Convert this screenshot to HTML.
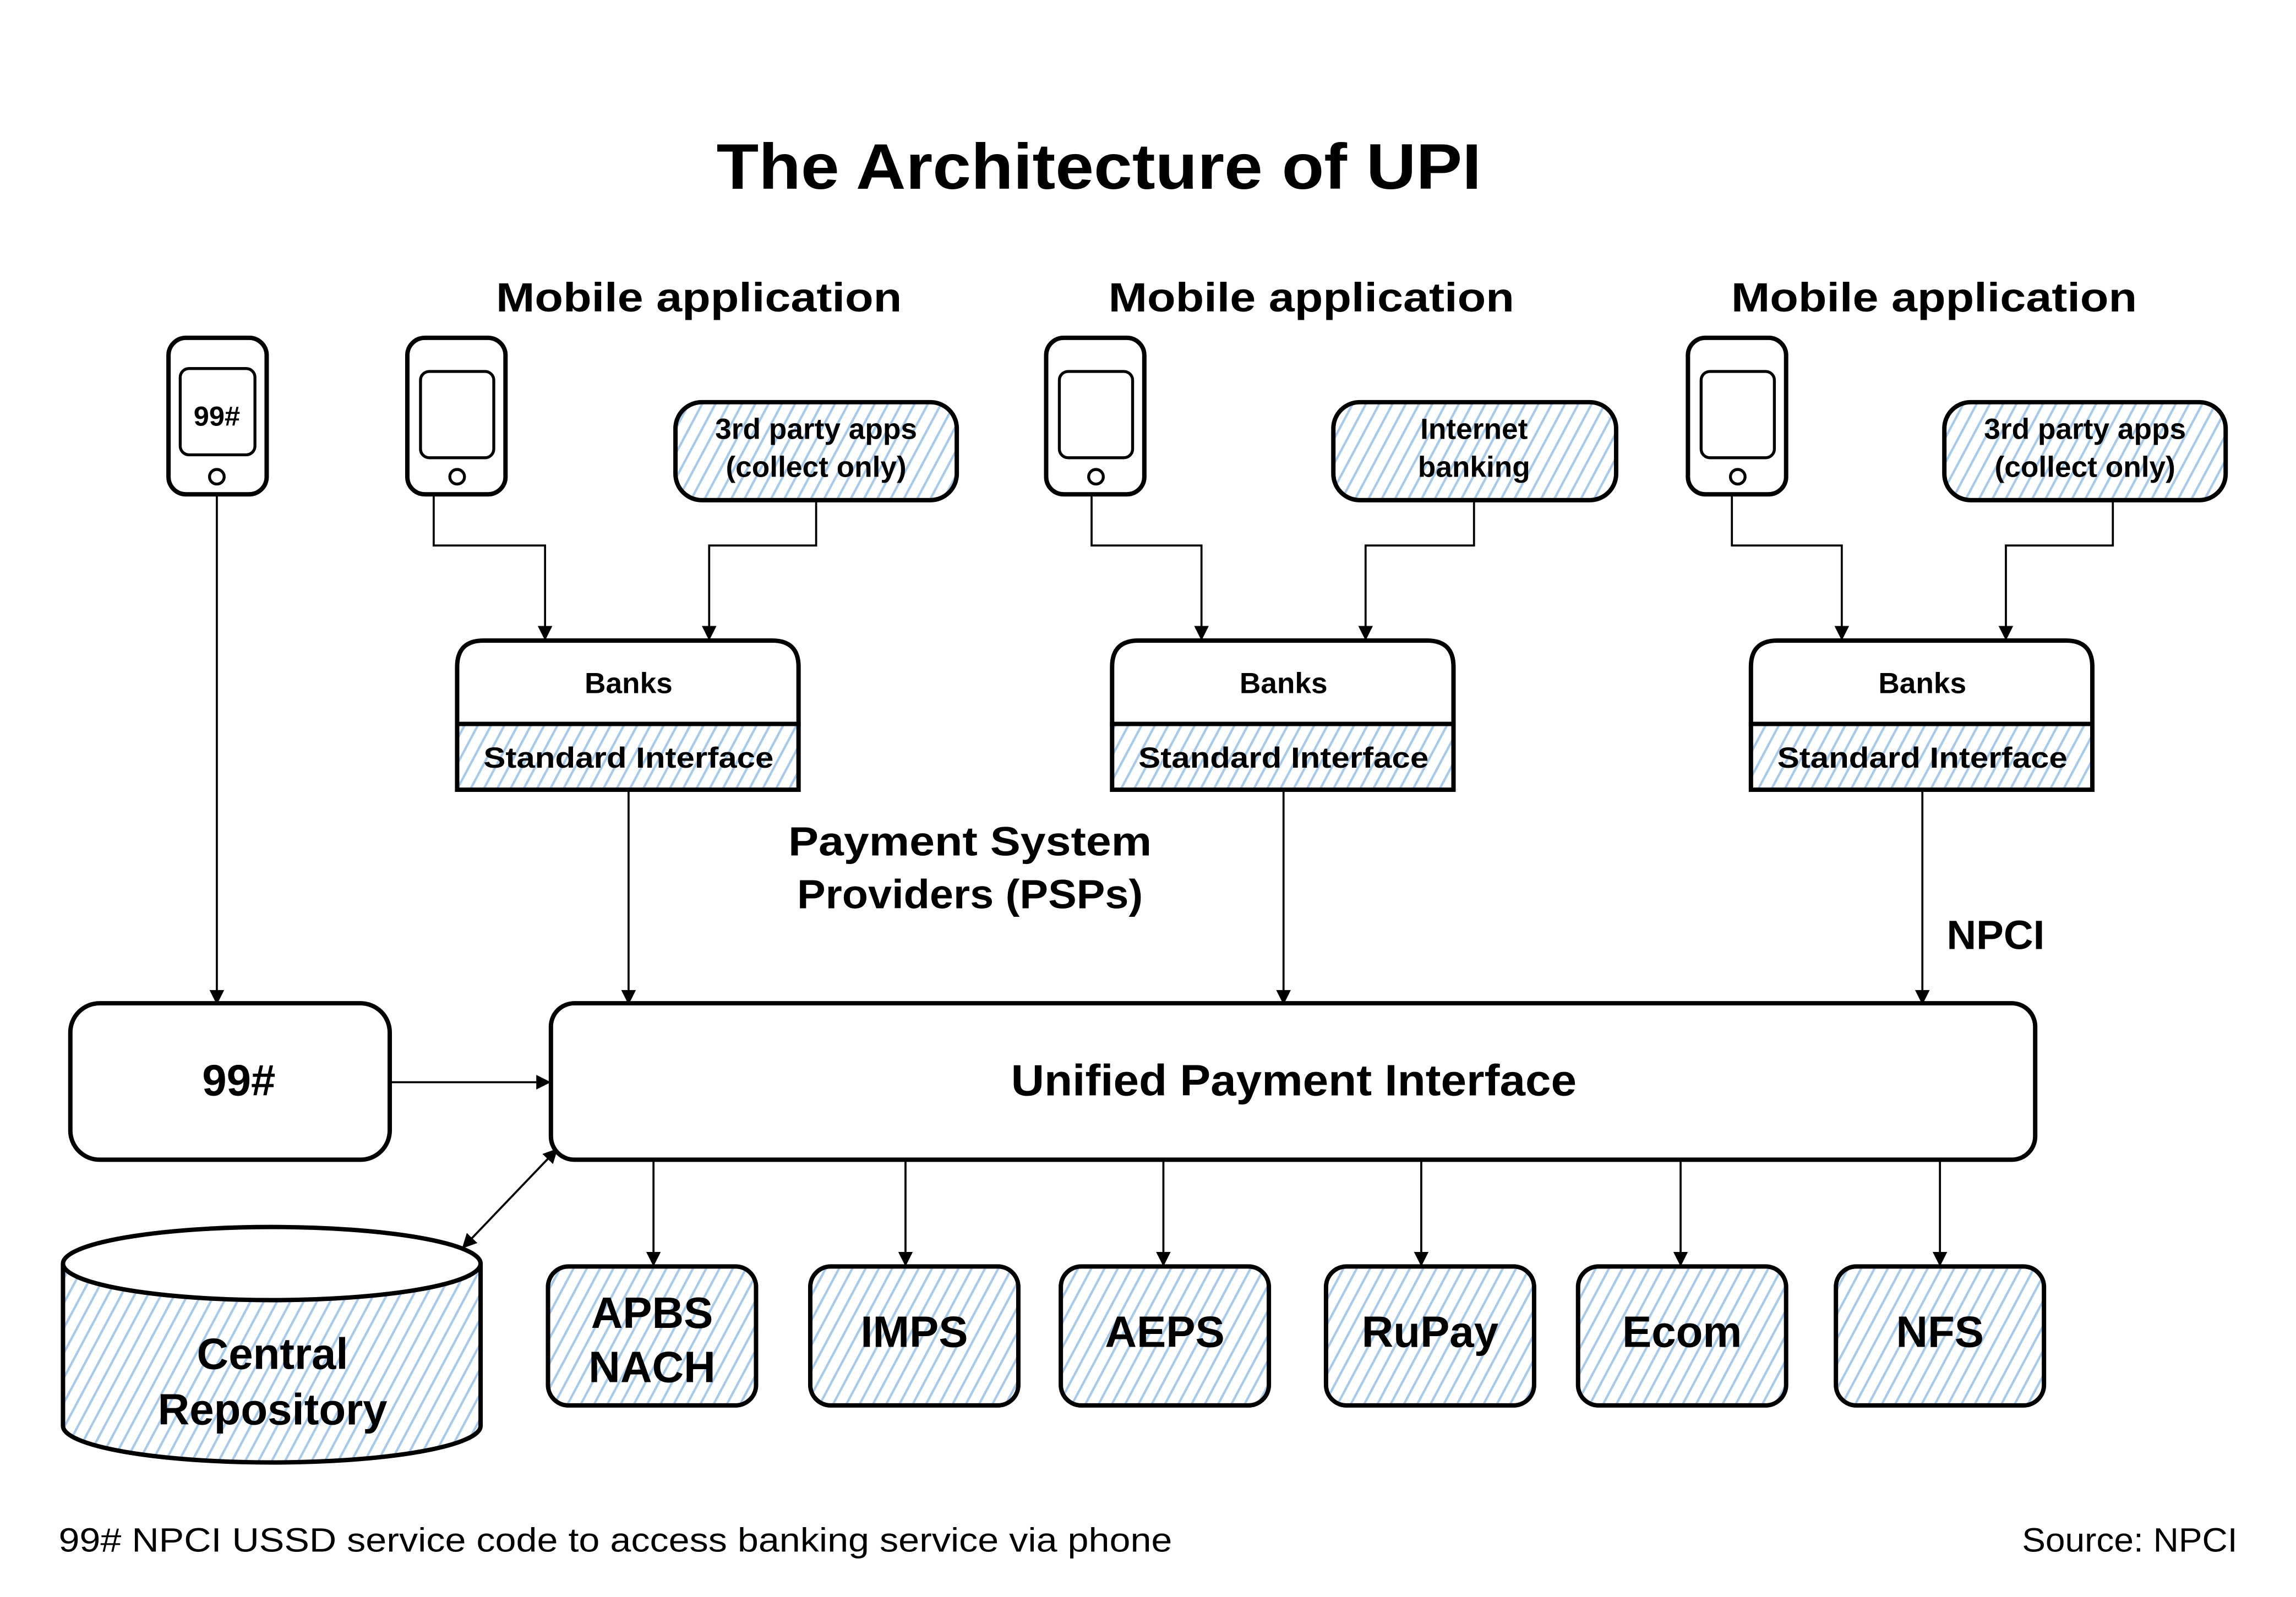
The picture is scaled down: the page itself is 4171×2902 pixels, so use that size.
<!DOCTYPE html>
<html><head><meta charset="utf-8"><style>html,body{margin:0;padding:0;background:#fff}svg{display:block}</style></head><body>
<svg width="4171" height="2902" viewBox="0 0 1567 1092" preserveAspectRatio="none" xmlns="http://www.w3.org/2000/svg" font-family="Liberation Sans, sans-serif">
<defs>
<pattern id="h" patternUnits="userSpaceOnUse" width="8" height="8" patternTransform="rotate(28)">
<rect width="8" height="8" fill="#fff"/><line x1="0" y1="0" x2="0" y2="8" stroke="#a9c9e9" stroke-width="3.2"/>
</pattern>
<marker id="a" markerWidth="10" markerHeight="10" refX="9" refY="5" orient="auto" markerUnits="userSpaceOnUse"><path d="M0,0 L10,5 L0,10z" fill="#000"/></marker>
<marker id="as" markerWidth="10" markerHeight="10" refX="1" refY="5" orient="auto" markerUnits="userSpaceOnUse"><path d="M10,0 L0,5 L10,10z" fill="#000"/></marker>
</defs>
<rect width="1567" height="1092" fill="#fff"/>
<text x="750" y="129" font-size="44" font-weight="bold" text-anchor="middle" textLength="522" lengthAdjust="spacingAndGlyphs">The Architecture of UPI</text>
<g font-size="28" font-weight="bold" text-anchor="middle">
<text x="477" y="213" textLength="277" lengthAdjust="spacingAndGlyphs">Mobile application</text><text x="895" y="213" textLength="277" lengthAdjust="spacingAndGlyphs">Mobile application</text><text x="1320" y="213" textLength="277" lengthAdjust="spacingAndGlyphs">Mobile application</text>
<text x="662" y="585" textLength="248" lengthAdjust="spacingAndGlyphs">Payment System</text><text x="662" y="621" textLength="236" lengthAdjust="spacingAndGlyphs">Providers (PSPs)</text>
<text x="1362" y="649">NPCI</text>
</g>
<g fill="none" stroke="#000" stroke-width="3">
<rect x="115" y="231" width="67" height="107" rx="12"/><rect x="123" y="252" width="51" height="59" rx="6" stroke-width="2"/><circle cx="148" cy="326" r="5" stroke-width="2"/>
<rect x="278" y="231" width="67" height="107" rx="12"/><rect x="287" y="254" width="50" height="59" rx="6" stroke-width="2"/><circle cx="312" cy="326" r="5" stroke-width="2"/>
<rect x="714" y="231" width="67" height="107" rx="12"/><rect x="723" y="254" width="50" height="59" rx="6" stroke-width="2"/><circle cx="748" cy="326" r="5" stroke-width="2"/>
<rect x="1152" y="231" width="67" height="107" rx="12"/><rect x="1161" y="254" width="50" height="59" rx="6" stroke-width="2"/><circle cx="1186" cy="326" r="5" stroke-width="2"/>
</g>
<text x="148" y="291" font-size="19" font-weight="bold" text-anchor="middle">99#</text>
<g stroke="#000" stroke-width="3" fill="url(#h)">
<rect x="461" y="275" width="192" height="67" rx="18"/><rect x="910" y="275" width="193" height="67" rx="18"/><rect x="1327" y="275" width="192" height="67" rx="18"/>
</g>
<g font-size="20" font-weight="bold" text-anchor="middle">
<text x="557" y="300">3rd party apps</text><text x="557" y="326">(collect only)</text>
<text x="1006" y="300">Internet</text><text x="1006" y="326">banking</text>
<text x="1423" y="300">3rd party apps</text><text x="1423" y="326">(collect only)</text>
</g>
<g fill="none" stroke="#000" stroke-width="1.4" marker-end="url(#a)">
<path d="M296,338V373H372V437"/><path d="M557,342V373H484V437"/>
<path d="M745,338V373H820V437"/><path d="M1006,342V373H932V437"/>
<path d="M1182,338V373H1257V437"/><path d="M1442,342V373H1369V437"/>
<path d="M429,540V686"/><path d="M876,540V686"/><path d="M1312,540V686"/>
<path d="M148,338V686"/><path d="M266,740H375"/>
<path d="M446,793V865"/><path d="M618,793V865"/><path d="M794,793V865"/><path d="M970,793V865"/><path d="M1147,793V865"/><path d="M1324,793V865"/>
<path d="M316,853L380,786" marker-start="url(#as)"/>
</g>
<g stroke="#000" stroke-width="3">
<g><rect x="312" y="495" width="233" height="45" fill="url(#h)"/><path d="M312,495V456Q312,438 330,438H527Q545,438 545,456V495Z" fill="#fff"/></g>
<g><rect x="759" y="495" width="233" height="45" fill="url(#h)"/><path d="M759,495V456Q759,438 777,438H974Q992,438 992,456V495Z" fill="#fff"/></g>
<g><rect x="1195" y="495" width="233" height="45" fill="url(#h)"/><path d="M1195,495V456Q1195,438 1213,438H1410Q1428,438 1428,456V495Z" fill="#fff"/></g>
</g>
<g font-size="20" font-weight="bold" text-anchor="middle">
<text x="429" y="474">Banks</text><text x="429" y="525" textLength="198" lengthAdjust="spacingAndGlyphs">Standard Interface</text>
<text x="876" y="474">Banks</text><text x="876" y="525" textLength="198" lengthAdjust="spacingAndGlyphs">Standard Interface</text>
<text x="1312" y="474">Banks</text><text x="1312" y="525" textLength="198" lengthAdjust="spacingAndGlyphs">Standard Interface</text>
</g>
<g stroke="#000" stroke-width="3" fill="#fff">
<rect x="48" y="686" width="218" height="107" rx="20"/>
<rect x="376" y="686" width="1013" height="107" rx="16"/>
</g>
<text x="163" y="749" font-size="30" font-weight="bold" text-anchor="middle">99#</text>
<text x="883" y="749" font-size="30" font-weight="bold" text-anchor="middle" textLength="386" lengthAdjust="spacingAndGlyphs">Unified Payment Interface</text>
<g stroke="#000" stroke-width="3" fill="url(#h)">
<rect x="374" y="866" width="142" height="95" rx="14"/><rect x="553" y="866" width="142" height="95" rx="14"/>
<rect x="724" y="866" width="142" height="95" rx="14"/><rect x="905" y="866" width="142" height="95" rx="14"/>
<rect x="1077" y="866" width="142" height="95" rx="14"/><rect x="1253" y="866" width="142" height="95" rx="14"/>
<path d="M43,864V975A142.5,25 0 0 0 328,975V864"/>
<ellipse cx="185.5" cy="864" rx="142.5" ry="25" fill="#fff"/>
</g>
<g font-size="30" font-weight="bold" text-anchor="middle">
<text x="445" y="908">APBS</text><text x="445" y="945">NACH</text>
<text x="624" y="921">IMPS</text><text x="795" y="921">AEPS</text><text x="976" y="921">RuPay</text>
<text x="1148" y="921">Ecom</text><text x="1324" y="921">NFS</text>
<text x="186" y="936">Central</text><text x="186" y="974">Repository</text>
</g>
<text x="40" y="1061" font-size="23" textLength="760" lengthAdjust="spacingAndGlyphs">99# NPCI USSD service code to access banking service via phone</text>
<text x="1380" y="1061" font-size="23" textLength="147" lengthAdjust="spacingAndGlyphs">Source: NPCI</text>
</svg>
</body></html>
